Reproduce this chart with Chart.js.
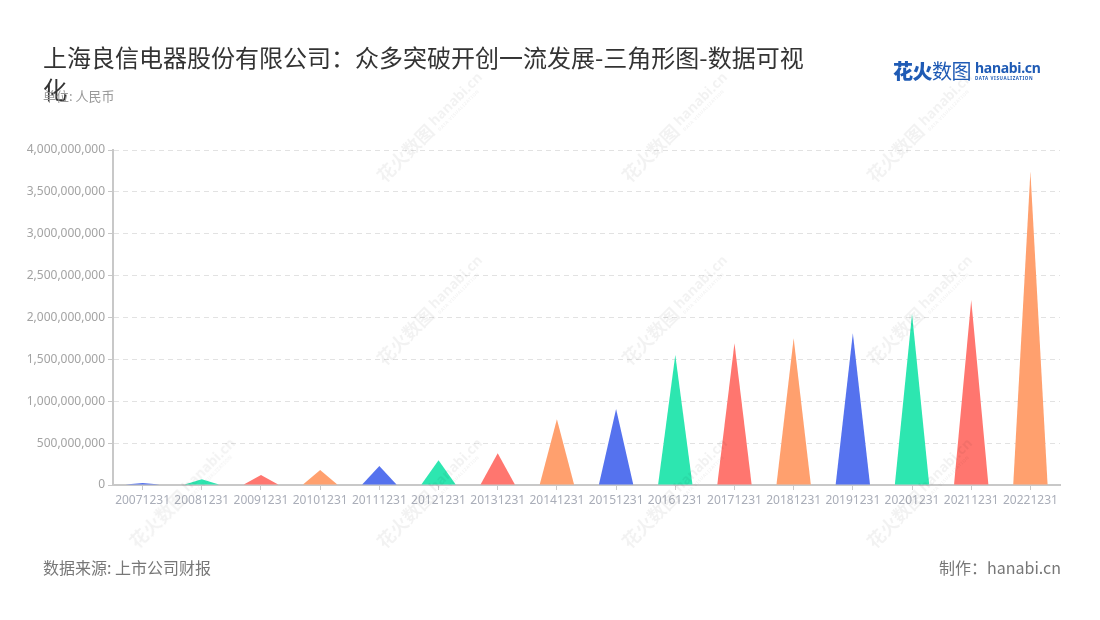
<!DOCTYPE html>
<html>
<head>
<meta charset="utf-8">
<script src="https://cdn.jsdelivr.net/npm/chart.js@4.4.1/dist/chart.umd.min.js"></script>
<style>
html,body{margin:0;padding:0;background:#fff;}
#wrap{position:relative;width:1100px;height:620px;overflow:hidden;font-family:"Noto Sans CJK SC","Noto Sans",sans-serif;}
#c{position:absolute;left:0;top:0;}
.title{position:absolute;left:43px;top:41px;width:775px;font-size:24px;line-height:32px;color:#333;}
.unit{position:absolute;left:43px;top:86px;font-size:13px;line-height:20px;color:#999;}
.foot-l{position:absolute;left:43px;top:555px;font-size:16px;line-height:24px;color:#777;}
.foot-r{position:absolute;right:39px;top:555px;font-size:16px;line-height:24px;color:#777;}
.logo{position:absolute;left:893px;top:58px;display:flex;align-items:center;color:#1f5bb5;}
.logo .cn{font-size:20px;line-height:26px;letter-spacing:-0.5px;}
.logo .cn b{font-weight:900;}
.logo .en{display:flex;flex-direction:column;margin-left:4px;}
.logo .hb{font-family:"Noto Sans",sans-serif;font-weight:700;font-size:14px;line-height:15px;letter-spacing:-0.3px;}
.logo .dv{font-family:"Noto Sans",sans-serif;font-weight:700;font-size:4.5px;line-height:7px;letter-spacing:0.6px;}
.wm{position:absolute;display:flex;align-items:center;color:rgba(0,0,0,0.05);transform:translate(-50%,-50%) rotate(-45deg);pointer-events:none;white-space:nowrap;z-index:5;}
.wm .cn{font-size:18px;font-weight:700;line-height:22px;}
.wm .en{display:flex;flex-direction:column;margin-left:4px;}
.wm .hb{font-family:"Noto Sans",sans-serif;font-weight:700;font-size:14px;line-height:15px;}
.wm .dv{font-family:"Noto Sans",sans-serif;font-weight:700;font-size:4.5px;line-height:6px;letter-spacing:0.5px;}
</style>
</head>
<body>
<div id="wrap">
  <canvas id="c" width="1100" height="620"></canvas>
  <div class="title">上海良信电器股份有限公司：众多突破开创一流发展-三角形图-数据可视化</div>
  <div class="unit">单位: 人民币</div>
  <div class="logo"><span class="cn"><b>花火</b>数图</span><span class="en"><span class="hb">hanabi.cn</span><span class="dv">DATA VISUALIZATION</span></span></div>
  <div class="foot-l">数据来源: 上市公司财报</div>
  <div class="foot-r">制作：hanabi.cn</div>
  <div id="wms"></div>
</div>
<script>
// ---- data ----
const categories = ['20071231','20081231','20091231','20101231','20111231','20121231','20131231','20141231',
                    '20151231','20161231','20171231','20181231','20191231','20201231','20211231','20221231'];
const values = [24000000, 68000000, 119000000, 179000000, 227000000, 295000000, 378000000, 785000000,
                907000000, 1552000000, 1692000000, 1752000000, 1811000000, 2042000000, 2209000000, 3742000000];
const yMin = 0;
const yMax = 4000000000;
const yStep = 500000000;

// ---- style ----
const palette = ['#5572ee', '#2de6b0', '#ff766f', '#ffa06e'];
const barColors = categories.map((_, i) => palette[i % palette.length]);

// watermarks
const wmPos = [[183,493],[430,127],[430,310],[430,493],[675,127],[675,310],[675,493],[920,127],[920,310],[920,493]];
const wmHost = document.getElementById('wms');
wmPos.forEach(([x,y]) => {
  const d = document.createElement('div');
  d.className = 'wm';
  d.style.left = x + 'px';
  d.style.top = y + 'px';
  d.innerHTML = '<span class="cn">花火数图</span><span class="en"><span class="hb">hanabi.cn</span><span class="dv">DATA VISUALIZATION</span></span>';
  wmHost.appendChild(d);
});

const trianglePlugin = {
  id: 'triangles',
  beforeDatasetDraw(chart, args) {
    const ctx = chart.ctx;
    ctx.save();
    args.meta.data.forEach((el) => {
      const p = el.getProps(['x', 'y', 'base', 'width'], true);
      ctx.beginPath();
      ctx.moveTo(p.x - p.width / 2, p.base);
      ctx.lineTo(p.x, p.y);
      ctx.lineTo(p.x + p.width / 2, p.base);
      ctx.closePath();
      ctx.fillStyle = el.options.backgroundColor;
      ctx.fill();
    });
    ctx.restore();
    return false;
  }
};

new Chart(document.getElementById('c'), {
  type: 'bar',
  data: {
    labels: categories,
    datasets: [{
      data: values,
      backgroundColor: barColors,
      barPercentage: 0.58,
      categoryPercentage: 1.0
    }]
  },
  plugins: [trianglePlugin],
  options: {
    responsive: false,
    animation: false,
    layout: { padding: { left: 0, right: 40, top: 150, bottom: 0 } },
    plugins: { legend: { display: false }, tooltip: { enabled: false }, title: { display: false } },
    scales: {
      x: {
        z: 1,
        offset: true,
        grid: { display: true, drawOnChartArea: false, drawTicks: true, tickLength: 5, tickColor: '#c8c8c8', offset: false },
        border: { display: true, color: '#c8c8c8', width: 2 },
        ticks: { color: '#a9adb8', font: { size: 12, family: 'Noto Sans' }, padding: 3, maxRotation: 0, autoSkip: false },
        afterFit(s) { s.height = 135; }
      },
      y: {
        min: yMin,
        max: yMax,
        ticks: {
          stepSize: yStep,
          color: '#a3a3a3',
          font: { size: 12, family: 'Noto Sans' },
          padding: 3,
          callback: (v) => Number(v).toLocaleString('en-US')
        },
        grid: { color: '#e2e2e2', lineWidth: 1, drawTicks: true, tickLength: 5, tickColor: '#c8c8c8' },
        border: { display: true, color: '#c8c8c8', width: 2, dash: [5, 4] },
        afterFit(s) { s.width = 113; }
      }
    }
  }
});
</script>
</body>
</html>
